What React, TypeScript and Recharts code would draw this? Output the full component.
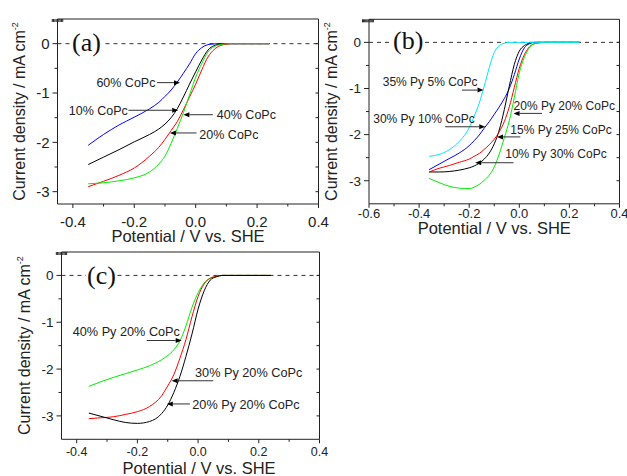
import React from "react";
import { LineChart, Line, XAxis, YAxis, ReferenceLine, ReferenceDot } from "recharts";

const SANS = "'Liberation Sans', Arial, sans-serif";
const SERIF = "'Liberation Serif', 'Times New Roman', serif";
const INK = "#222";

// ---- (a) CoPc loading
const potA = [-0.35, -0.3, -0.25, -0.2, -0.15, -0.12, -0.1, -0.08, -0.06, -0.04, -0.02, 0, 0.02, 0.04, 0.06, 0.08, 0.1, 0.12, 0.16, 0.2, 0.24];
const copc60 = [-2.06, -1.84, -1.65, -1.49, -1.32, -1.19, -1.07, -0.94, -0.78, -0.6, -0.41, -0.2, -0.08, -0.02, -0.005, 0, 0, 0, 0, 0, 0];
const copc10 = [-2.45, -2.3, -2.15, -1.99, -1.84, -1.73, -1.63, -1.5, -1.32, -1.08, -0.82, -0.57, -0.33, -0.13, -0.04, -0.01, 0, 0, 0, 0, 0];
const copc20 = [-2.9, -2.79, -2.67, -2.52, -2.28, -2.1, -1.94, -1.76, -1.58, -1.34, -1.08, -0.82, -0.53, -0.27, -0.12, -0.04, -0.01, 0, 0, 0, 0];
const copc40 = [-2.84, -2.82, -2.78, -2.72, -2.6, -2.44, -2.28, -2.02, -1.72, -1.4, -1.04, -0.68, -0.4, -0.17, -0.06, -0.02, 0, 0, 0, 0, 0];

// ---- (b) Py / CoPc mixtures
const potB = [-0.36, -0.32, -0.28, -0.24, -0.2, -0.18, -0.16, -0.14, -0.12, -0.1, -0.08, -0.06, -0.04, -0.02, 0, 0.02, 0.04, 0.06, 0.08, 0.1, 0.12, 0.16, 0.2, 0.24];
const py35co5 = [-2.47, -2.43, -2.33, -2.15, -1.85, -1.6, -1.32, -0.95, -0.55, -0.22, -0.07, -0.02, 0, 0, 0, 0, 0, 0, 0, 0, 0, 0, 0, 0];
const py30co10 = [-2.76, -2.64, -2.52, -2.4, -2.24, -2.13, -2.01, -1.86, -1.72, -1.56, -1.4, -1.22, -1.0, -0.7, -0.36, -0.12, -0.03, 0, 0, 0, 0, 0, 0, 0];
const py20co20 = [-2.95, -3.04, -3.12, -3.16, -3.17, -3.14, -3.08, -2.99, -2.88, -2.7, -2.42, -2.07, -1.7, -1.2, -0.66, -0.33, -0.12, -0.03, -0.01, 0, 0, 0, 0, 0];
const py15co25 = [-2.81, -2.73, -2.67, -2.6, -2.53, -2.47, -2.41, -2.32, -2.22, -2.1, -1.94, -1.72, -1.4, -0.98, -0.56, -0.27, -0.1, -0.03, -0.01, 0, 0, 0, 0, 0];
const py10co30 = [-2.81, -2.81, -2.8, -2.77, -2.72, -2.68, -2.62, -2.53, -2.4, -2.2, -1.9, -1.46, -0.95, -0.48, -0.19, -0.07, -0.02, 0, 0, 0, 0, 0, 0, 0];

// ---- (c) Py loading at 20% CoPc
const potC = [-0.36, -0.32, -0.28, -0.24, -0.2, -0.16, -0.12, -0.1, -0.08, -0.06, -0.04, -0.02, 0, 0.02, 0.04, 0.06, 0.08, 0.12, 0.16, 0.2, 0.24];
const cPy40 = [-2.37, -2.27, -2.18, -2.1, -2.02, -1.93, -1.8, -1.71, -1.59, -1.4, -1.08, -0.68, -0.37, -0.16, -0.06, -0.02, 0, 0, 0, 0, 0];
const cPy30 = [-3.06, -3.04, -3.02, -2.97, -2.91, -2.8, -2.57, -2.36, -2.12, -1.77, -1.37, -0.88, -0.45, -0.18, -0.06, -0.02, 0, 0, 0, 0, 0];
const cPy20 = [-2.94, -3.01, -3.08, -3.14, -3.16, -3.12, -2.95, -2.77, -2.5, -2.16, -1.73, -1.25, -0.72, -0.33, -0.1, -0.03, 0, 0, 0, 0, 0];

const ticksA = [-0.4, -0.3, -0.2, -0.1, 0, 0.1, 0.2, 0.3, 0.4];
const ticksB = [-0.6, -0.5, -0.4, -0.3, -0.2, -0.1, 0, 0.1, 0.2, 0.3, 0.4];
const yTicksA = [0, -0.5, -1, -1.5, -2, -2.5, -3];
const yTicksB = [0, -0.5, -1, -1.5, -2, -2.5, -3];

type Series = { key: string; color: string; values: number[] };
type Note = { text: string; tx: number; ty: number; anchor: "start" | "end"; from: [number, number]; to: [number, number] };

const notesA: Note[] = [
  { text: "60% CoPc", tx: -0.131, ty: -0.79, anchor: "end", from: [-0.126, -0.79], to: [-0.051, -0.79] },
  { text: "10% CoPc", tx: -0.221, ty: -1.35, anchor: "end", from: [-0.219, -1.35], to: [-0.057, -1.35] },
  { text: "40% CoPc", tx: 0.069, ty: -1.43, anchor: "start", from: [0.056, -1.44], to: [-0.04, -1.44] },
  { text: "20% CoPc", tx: 0.012, ty: -1.84, anchor: "start", from: [0.003, -1.81], to: [-0.084, -1.81] },
];
const notesB: Note[] = [
  { text: "35% Py 5% CoPc", tx: -0.545, ty: -0.855, anchor: "start", from: [-0.229, -1.035], to: [-0.143, -1.035] },
  { text: "30% Py 10% CoPc", tx: -0.583, ty: -1.664, anchor: "start", from: [-0.296, -1.83], to: [-0.136, -1.83] },
  { text: "20% Py 20% CoPc", tx: -0.023, ty: -1.38, anchor: "start", from: [0.091, -1.54], to: [-0.023, -1.54] },
  { text: "15% Py 25% CoPc", tx: -0.036, ty: -1.9, anchor: "start", from: [0.004, -2.05], to: [-0.089, -2.05] },
  { text: "10% Py 30% CoPc", tx: -0.056, ty: -2.42, anchor: "start", from: [-0.023, -2.61], to: [-0.176, -2.61] },
];
const notesC: Note[] = [
  { text: "40% Py 20% CoPc", tx: -0.413, ty: -1.19, anchor: "start", from: [-0.169, -1.39], to: [-0.054, -1.39] },
  { text: "30% Py 20% CoPc", tx: -0.01, ty: -2.07, anchor: "start", from: [0.05, -2.25], to: [-0.087, -2.25] },
  { text: "20% Py 20% CoPc", tx: -0.019, ty: -2.745, anchor: "start", from: [-0.027, -2.745], to: [-0.103, -2.745] },
];

const isMult = (v: number, step: number) => Math.abs(v / step - Math.round(v / step)) < 1e-6;

function Arrow(p: any) {
  const { x1, y1, x2, y2 } = p;
  const a = Math.atan2(y2 - y1, x2 - x1);
  const bx = x2 - 6 * Math.cos(a);
  const by = y2 - 6 * Math.sin(a);
  const ox = -Math.sin(a) * 2.5;
  const oy = Math.cos(a) * 2.5;
  return (
    <g>
      <line x1={x1} y1={y1} x2={bx} y2={by} stroke="#333" strokeWidth={1} />
      <polygon points={`${x2},${y2} ${bx + ox},${by + oy} ${bx - ox},${by - oy}`} fill="#000" />
    </g>
  );
}

type PanelProps = {
  box: { left: number; top: number; width: number; height: number };
  margin: { top: number; right: number; bottom: number; left: number };
  yAxisWidth: number;
  xAxisHeight: number;
  xDomain: [number, number];
  yDomain: [number, number];
  xTicks: number[];
  yTicks: number[];
  pot: number[];
  series: Series[];
  notes: Note[];
  xTickFs: number;
  yTickFs: number;
  noteFs: number;
  xTickDy: number;
  xTitleDy: number;
  xTitleDx: number;
  yTitleX: number;
};

function Panel(props: PanelProps) {
  const { box, margin, xTicks, yTicks, pot, series } = props;
  const rows = pot.map((x, i) => {
    const r: Record<string, number> = { x };
    series.forEach((s) => (r[s.key] = s.values[i]));
    return r;
  });

  const leftTick = (p: any) => {
    const v = p.payload.value;
    const major = isMult(v, 1);
    return (
      <g>
        <line x1={p.x} x2={p.x - (major ? 5 : 3)} y1={p.y} y2={p.y} stroke={INK} />
        {major && (
          <text x={p.x - 8} y={p.y} dy="0.36em" textAnchor="end" fontSize={props.yTickFs} fontFamily={SANS} fill={INK}>
            {v}
          </text>
        )}
      </g>
    );
  };
  const bottomTick = (p: any) => {
    const v = p.payload.value;
    const major = isMult(v, 0.2);
    return (
      <g>
        <line x1={p.x} x2={p.x} y1={p.y} y2={p.y + (major ? 4 : 2.5)} stroke={INK} />
        {major && (
          <text x={p.x} y={p.y + props.xTickDy} textAnchor="middle" fontSize={props.xTickFs} fontFamily={SANS} fill={INK}>
            {v.toFixed(1)}
          </text>
        )}
      </g>
    );
  };
  const rightTick = (p: any) => <line x1={p.x} x2={p.x - 3} y1={p.y} y2={p.y} stroke={INK} />;
  const topTick = (p: any) => <line x1={p.x} x2={p.x} y1={p.y} y2={p.y + 3} stroke={INK} />;

  const xTitle = (p: any) => {
    const vb = p.viewBox;
    return (
      <text x={vb.x + vb.width / 2 + props.xTitleDx} y={vb.y + props.xTitleDy} textAnchor="middle" fontSize={16.5} fontFamily={SANS} fill={INK}>
        Potential / V vs. SHE
      </text>
    );
  };
  const yTitle = (p: any) => {
    const vb = p.viewBox;
    const cx = vb.x + props.yTitleX;
    const cy = vb.y + vb.height / 2;
    return (
      <text transform={`translate(${cx},${cy}) rotate(-90)`} textAnchor="middle" fontSize={16} fontFamily={SANS} fill={INK}>
        Current density / mA cm<tspan dy={-7} fontSize={9}>-2</tspan>
      </text>
    );
  };

  return (
    <div style={{ position: "absolute", left: box.left, top: box.top }}>
      <LineChart width={box.width} height={box.height} data={rows} margin={margin}>
        <XAxis
          dataKey="x"
          type="number"
          domain={props.xDomain}
          allowDataOverflow
          ticks={xTicks}
          interval={0}
          tickSize={0}
          tickMargin={0}
          tickLine={false}
          tick={bottomTick}
          height={props.xAxisHeight}
          stroke={INK}
          label={{ content: xTitle }}
        />
        <XAxis
          xAxisId="top"
          orientation="top"
          mirror
          type="number"
          domain={props.xDomain}
          allowDataOverflow
          ticks={xTicks}
          interval={0}
          tickSize={0}
          tickMargin={0}
          tickLine={false}
          tick={topTick}
          stroke={INK}
        />
        <YAxis
          type="number"
          domain={props.yDomain}
          allowDataOverflow
          ticks={yTicks}
          interval={0}
          tickSize={0}
          tickMargin={0}
          tickLine={false}
          tick={leftTick}
          width={props.yAxisWidth}
          stroke={INK}
          label={{ content: yTitle }}
        />
        <YAxis
          yAxisId="right"
          orientation="right"
          mirror
          type="number"
          domain={props.yDomain}
          allowDataOverflow
          ticks={yTicks}
          interval={0}
          tickSize={0}
          tickMargin={0}
          tickLine={false}
          tick={rightTick}
          stroke={INK}
        />
        <ReferenceLine y={0} stroke="#333" strokeDasharray="4 4" />
        {series.map((s) => (
          <Line
            key={s.key}
            dataKey={s.key}
            type="monotone"
            stroke={s.color}
            strokeWidth={1}
            dot={false}
            isAnimationActive={false}
          />
        ))}
        {props.notes.map((n) => (
          <ReferenceLine
            key={n.text + "-arrow"}
            segment={[
              { x: n.from[0], y: n.from[1] },
              { x: n.to[0], y: n.to[1] },
            ]}
            shape={Arrow}
          />
        ))}
        {props.notes.map((n) => (
          <ReferenceDot
            key={n.text}
            x={n.tx}
            y={n.ty}
            r={0}
            shape={(p: any) => (
              <text x={p.cx} y={p.cy} dy="0.36em" textAnchor={n.anchor} fontSize={props.noteFs} fontFamily={SANS} fill={INK}>
                {n.text}
              </text>
            )}
          />
        ))}
      </LineChart>
    </div>
  );
}

function Tag({ text, left, top }: { text: string; left: number; top: number }) {
  return (
    <div
      style={{
        position: "absolute",
        left,
        top,
        fontFamily: SERIF,
        fontSize: 26,
        lineHeight: 1,
        background: "#fff",
        color: "#111",
        padding: "0 1px",
      }}
    >
      {text}
    </div>
  );
}

export default function App() {
  return (
    <div style={{ position: "absolute", left: 0, top: 0, width: 627, height: 476, background: "#fff", overflow: "hidden" }}>
      <Panel
        box={{ left: 0, top: 0, width: 330, height: 245 }}
        margin={{ top: 19, right: 11.5, bottom: 0, left: 0 }}
        yAxisWidth={57.5}
        xAxisHeight={41}
        xDomain={[-0.45, 0.4]}
        yDomain={[-3.25, 0.5]}
        xTicks={ticksA}
        yTicks={yTicksA}
        pot={potA}
        series={[
          { key: "copc60", color: "#0000ff", values: copc60 },
          { key: "copc10", color: "#000000", values: copc10 },
          { key: "copc20", color: "#ff0000", values: copc20 },
          { key: "copc40", color: "#00ee00", values: copc40 },
        ]}
        notes={notesA}
        xTickFs={15}
        yTickFs={15}
        noteFs={12.5}
        xTickDy={23}
        xTitleDy={37.5}
        xTitleDx={0}
        yTitleX={25}
      />
      <Panel
        box={{ left: 320, top: 0, width: 307, height: 245 }}
        margin={{ top: 19.3, right: 7.5, bottom: 0, left: 0 }}
        yAxisWidth={49}
        xAxisHeight={41.2}
        xDomain={[-0.6, 0.4]}
        yDomain={[-3.5, 0.5]}
        xTicks={ticksB}
        yTicks={yTicksB}
        pot={potB}
        series={[
          { key: "py30co10", color: "#0000ff", values: py30co10 },
          { key: "py10co30", color: "#000000", values: py10co30 },
          { key: "py15co25", color: "#ff0000", values: py15co25 },
          { key: "py20co20", color: "#00ee00", values: py20co20 },
          { key: "py35co5", color: "#00e5ff", values: py35co5 },
        ]}
        notes={notesB}
        xTickFs={13}
        yTickFs={13.5}
        noteFs={12}
        xTickDy={14.5}
        xTitleDy={30}
        xTitleDx={0}
        yTitleX={17}
      />
      <Panel
        box={{ left: 0, top: 240, width: 330, height: 236 }}
        margin={{ top: 12, right: 10.5, bottom: 0, left: 0 }}
        yAxisWidth={61.5}
        xAxisHeight={36.7}
        xDomain={[-0.45, 0.4]}
        yDomain={[-3.5, 0.5]}
        xTicks={ticksA}
        yTicks={yTicksB}
        pot={potC}
        series={[
          { key: "cPy40", color: "#00ee00", values: cPy40 },
          { key: "cPy30", color: "#ff0000", values: cPy30 },
          { key: "cPy20", color: "#000000", values: cPy20 },
        ]}
        notes={notesC}
        xTickFs={12.5}
        yTickFs={13.5}
        noteFs={12.7}
        xTickDy={16.7}
        xTitleDy={34.7}
        xTitleDx={8.5}
        yTitleX={30}
      />
      <Tag text="(a)" left={71} top={30} />
      <Tag text="(b)" left={392} top={27.7} />
      <Tag text="(c)" left={86} top={262.7} />
    </div>
  );
}
